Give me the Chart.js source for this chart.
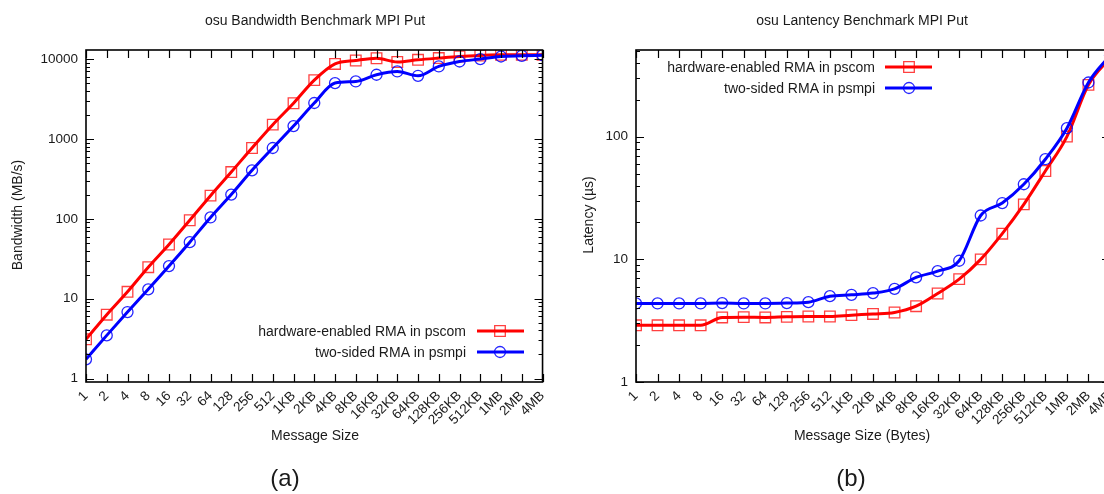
<!DOCTYPE html>
<html>
<head>
<meta charset="utf-8">
<script src="https://cdn.jsdelivr.net/npm/chart.js@4.4.1/dist/chart.umd.min.js"></script>
<style>
  html, body { margin: 0; padding: 0; background: #fff; overflow: hidden; }
  #page { position: relative; width: 1104px; height: 494px; overflow: hidden; }
  #bwChart { position: absolute; left: 0; top: 0; }
  #latChart { position: absolute; left: 560px; top: 0; }
</style>
</head>
<body>
<div id="page">
  <canvas id="bwChart" width="560" height="494"></canvas>
  <canvas id="latChart" width="590" height="494"></canvas>
</div>
<script>
// message sizes on the x axis (same for both panels)
const sizes = ["1", "2", "4", "8", "16", "32", "64", "128", "256", "512",
  "1KB", "2KB", "4KB", "8KB", "16KB", "32KB", "64KB", "128KB", "256KB", "512KB",
  "1MB", "2MB", "4MB"];

// (a) bandwidth, MB/s
const bwHardware = [3.1, 6.3, 12.2, 24.8, 47.7, 96, 195, 385, 771, 1510,
  2800, 5450, 8700, 9600, 10250, 9200, 9800, 10300, 10780, 11100,
  11300, 11300, 11300];
const bwTwoSided = [1.74, 3.47, 6.8, 13.1, 25.6, 51, 104, 201, 405, 771,
  1450, 2820, 5010, 5250, 6370, 7000, 6180, 8090, 9330, 10000,
  10780, 11000, 11200];

// (b) latency, us
const latHardware = [2.9, 2.9, 2.9, 2.9, 3.36, 3.38, 3.36, 3.4, 3.42, 3.42,
  3.51, 3.59, 3.69, 4.15, 5.27, 6.9, 10, 16.2, 28.1, 52.6,
  100.4, 265, 440];
const latTwoSided = [4.37, 4.37, 4.37, 4.37, 4.4, 4.37, 4.37, 4.4, 4.48, 5.01,
  5.14, 5.31, 5.75, 7.13, 8.02, 9.75, 22.8, 28.8, 41, 65.6,
  117.5, 277, 460];

const bwTicks = [1, 10, 100, 1000, 10000];
const latTicks = [1, 10, 100];

const seriesNames = ["hardware-enabled RMA in pscom", "two-sided RMA in psmpi"];

const FONT = "'Liberation Sans', Arial, Helvetica, sans-serif";
const TEXT = "#1a1a1a";
const RED = "#ff0000";
const BLUE = "#0000ff";

const toPoints = (vals) => vals.map((v, i) => ({ x: i, y: v }));

const makeDatasets = (hw, ts) => [
  {
    label: seriesNames[0],
    data: toPoints(hw),
    borderColor: RED,
    borderWidth: 3,
    pointStyle: "rect",
    pointRadius: 7.5,
    pointBorderWidth: 1.3,
    pointBorderColor: "rgba(255, 0, 0, 0.75)",
    pointBackgroundColor: "rgba(0,0,0,0)",
    cubicInterpolationMode: "monotone",
    order: 1,
  },
  {
    label: seriesNames[1],
    data: toPoints(ts),
    borderColor: BLUE,
    borderWidth: 3,
    pointStyle: "circle",
    pointRadius: 5.5,
    pointBorderWidth: 1.3,
    pointBorderColor: "rgba(0, 0, 255, 0.85)",
    pointBackgroundColor: "rgba(0,0,0,0)",
    cubicInterpolationMode: "monotone",
    order: 0,
  },
];

// gnuplot-like frame: box plus inward ticks on all four sides
const framePlugin = {
  id: "frame",
  afterDatasetsDraw(chart) {
    const { ctx, chartArea: a, scales } = chart;
    const xs = scales.x, ys = scales.y;
    ctx.save();
    ctx.strokeStyle = "#000";
    ctx.lineWidth = 1.2;
    ctx.beginPath();
    xs.ticks.forEach((t) => {
      const px = Math.round(xs.getPixelForValue(t.value)) + 0.5;
      ctx.moveTo(px, a.bottom); ctx.lineTo(px, a.bottom - 8);
      ctx.moveTo(px, a.top); ctx.lineTo(px, a.top + 8);
    });
    const lo = Math.floor(Math.log10(ys.min));
    const hi = Math.ceil(Math.log10(ys.max));
    for (let d = lo; d <= hi; d++) {
      for (let k = 1; k <= 9; k++) {
        const v = k * Math.pow(10, d);
        if (v < ys.min || v > ys.max) continue;
        const py = Math.round(ys.getPixelForValue(v)) + 0.5;
        const len = k === 1 ? 8 : 4;
        ctx.moveTo(a.left, py); ctx.lineTo(a.left + len, py);
        ctx.moveTo(a.right, py); ctx.lineTo(a.right - len, py);
      }
    }
    ctx.stroke();
    ctx.lineWidth = 1.6;
    ctx.strokeRect(a.left, a.top, a.right - a.left, a.bottom - a.top);
    ctx.restore();
  },
};

// titles, axis titles, caption and the in-plot key
const textPlugin = {
  id: "texts",
  afterDraw(chart, args, o) {
    const { ctx } = chart;
    ctx.save();
    ctx.fillStyle = TEXT;
    ctx.textAlign = "center";
    ctx.textBaseline = "middle";
    ctx.font = "14px " + FONT;
    ctx.fillText(o.title, o.titleX, 21);
    ctx.fillText(o.xTitle, o.titleX, 436);
    ctx.save();
    ctx.translate(o.yTitleX, 215);
    ctx.rotate(-Math.PI / 2);
    ctx.fillText(o.yTitle, 0, 0);
    ctx.restore();
    ctx.font = "24px " + FONT;
    ctx.fillText(o.caption, o.captionX, 479);

    // key
    ctx.font = "14px " + FONT;
    ctx.textAlign = "right";
    chart.data.datasets.forEach((ds, i) => {
      const y = o.keyRows[i];
      ctx.fillStyle = TEXT;
      ctx.fillText(ds.label, o.keyTextRight, y + 1);
      ctx.strokeStyle = ds.borderColor;
      ctx.lineWidth = 3;
      ctx.beginPath();
      ctx.moveTo(o.keyLine[0], y);
      ctx.lineTo(o.keyLine[1], y);
      ctx.stroke();
      ctx.strokeStyle = ds.pointBorderColor;
      ctx.lineWidth = ds.pointBorderWidth;
      ctx.beginPath();
      if (ds.pointStyle === "rect") {
        const h = ds.pointRadius * Math.SQRT1_2;
        ctx.rect(o.keyMark - h, y - h, 2 * h, 2 * h);
      } else {
        ctx.arc(o.keyMark, y, ds.pointRadius, 0, Math.PI * 2);
      }
      ctx.stroke();
    });
    ctx.restore();
  },
};

const buildConfig = (datasets, yMin, yMax, yTicks, yWidth, padRight, texts) => ({
  type: "line",
  data: { datasets },
  options: {
    responsive: false,
    animation: false,
    layout: { padding: { top: 50, right: padRight, bottom: 0, left: 0 } },
    plugins: {
      legend: { display: false },
      tooltip: { enabled: false },
      texts,
    },
    scales: {
      x: {
        type: "linear",
        bounds: "data",
        min: 0,
        max: sizes.length - 1,
        afterBuildTicks: (s) => { s.ticks = sizes.map((_, i) => ({ value: i })); },
        afterFit: (s) => { s.height = 112; },
        grid: { display: false, drawTicks: false },
        border: { display: false },
        ticks: {
          autoSkip: false,
          minRotation: 45,
          maxRotation: 45,
          padding: 6,
          color: TEXT,
          font: { family: FONT, size: 13.5 },
          callback: (v) => sizes[Math.round(v)],
        },
      },
      y: {
        type: "logarithmic",
        bounds: "data",
        min: yMin,
        max: yMax,
        afterBuildTicks: (s) => { s.ticks = yTicks.map((v) => ({ value: v })); },
        afterFit: (s) => { s.width = yWidth; },
        grid: { display: false, drawTicks: false },
        border: { display: false },
        ticks: {
          padding: 8,
          color: TEXT,
          font: { family: FONT, size: 13.5 },
          callback: (v) => String(v),
        },
      },
    },
  },
  plugins: [framePlugin, textPlugin],
});

new Chart(document.getElementById("bwChart"), buildConfig(
  makeDatasets(bwHardware, bwTwoSided), 0.905, 13000, bwTicks, 86, 16,
  {
    title: "osu Bandwidth Benchmark MPI Put",
    xTitle: "Message Size",
    yTitle: "Bandwidth (MB/s)",
    caption: "(a)",
    titleX: 315, yTitleX: 18, captionX: 285,
    keyTextRight: 466, keyRows: [331, 352], keyLine: [477, 524], keyMark: 500,
  }
));

// right panel runs past the page edge, as in the source figure
new Chart(document.getElementById("latChart"), buildConfig(
  makeDatasets(latHardware, latTwoSided), 1, 510, latTicks, 76, 40,
  {
    title: "osu Lantency Benchmark MPI Put",
    xTitle: "Message Size (Bytes)",
    yTitle: "Latency (µs)",
    caption: "(b)",
    titleX: 302, yTitleX: 29, captionX: 291,
    keyTextRight: 315, keyRows: [67, 88], keyLine: [325, 372], keyMark: 349,
  }
));
</script>
</body>
</html>
